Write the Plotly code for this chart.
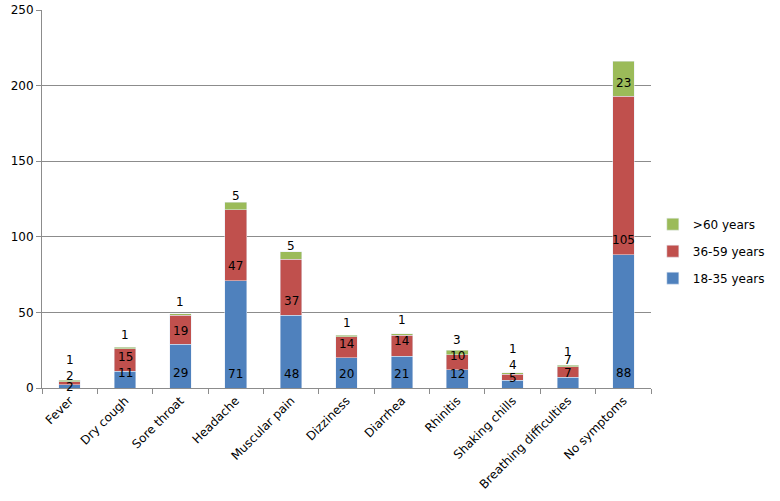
import plotly.graph_objects as go

categories = ["Fever", "Dry cough", "Sore throat", "Headache", "Muscular pain",
              "Dizziness", "Diarrhea", "Rhinitis", "Shaking chills",
              "Breathing difficulties", "No symptoms"]
age_18_35 = [2, 11, 29, 71, 48, 20, 21, 12, 5, 7, 88]
age_36_59 = [2, 15, 19, 47, 37, 14, 14, 10, 4, 7, 105]
age_60_plus = [1, 1, 1, 5, 5, 1, 1, 3, 1, 1, 23]

# where the data labels sit in the reference (y in axis units)
label_y_18_35 = [0.7, 10, 10, 9.3, 9.3, 9.3, 9.3, 9.3, 6.6, 10, 10]
label_y_36_59 = [8, 20.5, 37.7, 80.7, 57.5, 29, 31, 21, 15, 18.5, 98]
label_y_60 = [18.5, 35, 57, 127, 94, 43, 45, 31.7, 25.8, 24, 202]

BLUE = "#4F81BD"
RED = "#C0504D"
GREEN = "#9BBB59"
FONT = "DejaVu Sans"

fig = go.Figure()
fig.add_bar(x=categories, y=age_18_35, name="18-35 years", marker_color=BLUE,
            legendgroup="a", legendrank=3)
fig.add_bar(x=categories, y=age_36_59, name="36-59 years", marker_color=RED,
            legendgroup="b", legendrank=2)
fig.add_bar(x=categories, y=age_60_plus, name=">60 years", marker_color=GREEN,
            legendgroup="c", legendrank=1)

annotations = []
for vals, ys in ((age_18_35, label_y_18_35), (age_36_59, label_y_36_59),
                 (age_60_plus, label_y_60)):
    for c, v, yy in zip(categories, vals, ys):
        annotations.append(dict(x=c, y=yy, text=str(v), showarrow=False,
                                xref="x", yref="y",
                                font=dict(family=FONT, size=12, color="#000000")))

fig.update_layout(
    barmode="stack",
    bargap=0.61,
    width=780, height=501,
    margin=dict(l=42, r=112, t=10, b=113),
    paper_bgcolor="white", plot_bgcolor="white",
    font=dict(family=FONT, size=12, color="#000000"),
    annotations=annotations,
    legend=dict(traceorder="grouped", x=1.003, y=0.362, yanchor="middle",
                xanchor="left", font=dict(family=FONT, size=12),
                itemwidth=30, tracegroupgap=8),
    showlegend=True,
)
fig.update_yaxes(range=[0, 250], dtick=50, showgrid=True, gridcolor="#8C8C8C",
                 gridwidth=1, showline=True, linecolor="#8C8C8C", ticks="outside",
                 ticklen=5, tickcolor="#8C8C8C", zeroline=False, automargin=False,
                 tickfont=dict(family=FONT, size=12, color="#000000"))
fig.update_xaxes(showline=True, linecolor="#8C8C8C", ticks="outside",
                 tickson="boundaries", ticklen=5, tickcolor="#8C8C8C",
                 tickangle=-45, automargin=False,
                 tickfont=dict(family=FONT, size=12, color="#000000"))

fig.write_html("out.html", config={"displayModeBar": False},
               post_script="document.body.style.margin='0';"
                           "document.body.style.overflow='hidden';")
